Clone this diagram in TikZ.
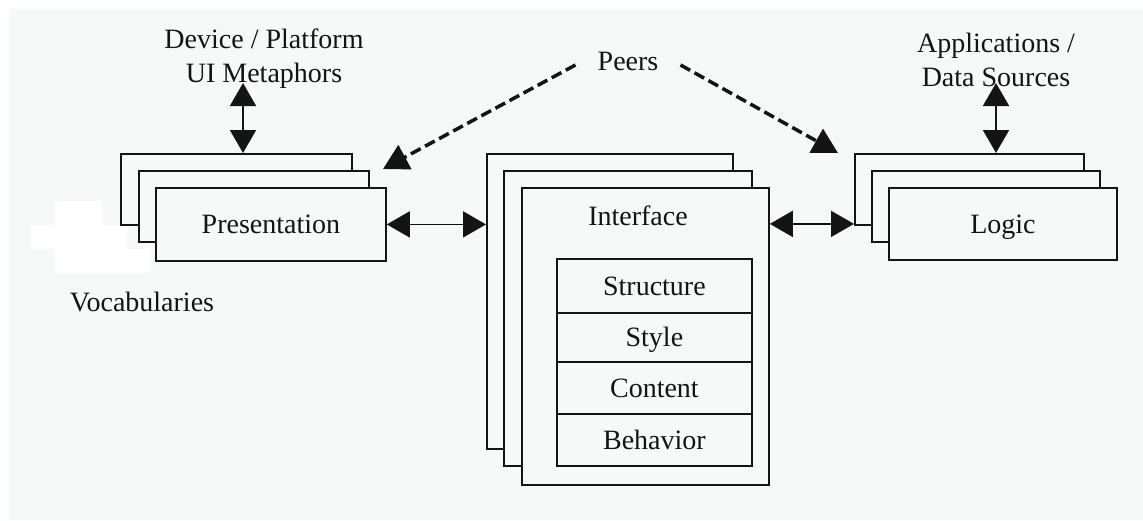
\documentclass[tikz,border=0pt]{standalone}
\usepackage{fontspec}
\setmainfont{Liberation Serif}
\usetikzlibrary{arrows.meta}
\definecolor{bgc}{RGB}{245,249,247}
\definecolor{ink}{RGB}{20,20,20}
\begin{document}
\begin{tikzpicture}[x=1pt,y=-1pt,
  every node/.style={font=\fontsize{28}{34}\selectfont, text=ink},
  card/.style={draw=ink, line width=1.8pt, fill=bgc, anchor=north west, inner sep=0pt,
    text height=19pt, text depth=0pt},
  cell/.style={card, minimum width=195pt},
  dbl/.style={draw=ink, line width=1.8pt,
    {Triangle[length=23pt,width=26pt]}-{Triangle[length=23pt,width=26pt]}},
  peer/.style={draw=ink, line width=3.5pt, dash pattern=on 11pt off 5pt,
    -{Triangle[length=25pt,width=27pt]}},
  lbl/.style={align=center, inner sep=0pt}
]
\useasboundingbox (0,0) rectangle (1143,520);
\fill[white] (0,0) rectangle (1143,520);
\fill[bgc] (9,9) rectangle (1143,520);
% white patches
\fill[white] (55,201) rectangle (103,225);
\fill[white] (31,225) rectangle (127,249);
\fill[white] (55,249) rectangle (151,273);

% Presentation stack
\node[card, minimum width=231pt, minimum height=71pt] (p1) at (120,153) {};
\node[card, minimum width=230pt, minimum height=71pt] (p2) at (138,170) {};
\node[card, minimum width=230pt, minimum height=73pt] (p3) at (155,187) {Presentation};

% Interface stack
\node[card, minimum width=246pt, minimum height=295pt] (i1) at (486,153) {};
\node[card, minimum width=248pt, minimum height=295pt] (i2) at (503,170) {};
\node[card, minimum width=247pt, minimum height=297pt] (i3) at (521,187) {};
\node[anchor=base, inner sep=0pt] (ilbl) at (638,225) {Interface};
\node[cell, minimum height=54pt] (c1) at (556,258) {Structure};
\node[cell, minimum height=49pt] (c2) at (556,312) {Style};
\node[cell, minimum height=52pt] (c3) at (556,361) {Content};
\node[cell, minimum height=52pt] (c4) at (556,413) {Behavior};

% Logic stack
\node[card, minimum width=229pt, minimum height=71pt] (l1) at (854,153) {};
\node[card, minimum width=228pt, minimum height=71pt] (l2) at (871,170) {};
\node[card, minimum width=228pt, minimum height=72pt] (l3) at (888,187) {Logic};

% labels
\node[lbl] (dev) at (264,58.6) {Device / Platform\\UI Metaphors};
\node[lbl] (app) at (996,59.7) {Applications /\\Data Sources};
\node[anchor=base, inner ysep=0pt, inner xsep=22pt] (peers) at (628,70) {Peers};
\node[anchor=base, inner sep=0pt] (voc) at (142,311) {Vocabularies};

% connectors
\coordinate (devtip) at (243,83);
\coordinate (apptip) at (996,83);
\draw[dbl] (devtip) -- (devtip |- p1.north);
\draw[dbl] (apptip) -- (apptip |- l1.north);
\draw[dbl] (p3.east) -- (i1.west |- p3.east);
\draw[dbl] (i3.east |- l3.west) -- (l1.west |- l3.west);

\coordinate (pl) at (383,169);
\coordinate (pr) at (838,153);
\draw[peer] ([yshift=-4pt]peers.west) -- (pl);
\draw[peer] ([yshift=-4pt]peers.east) -- (pr);
\end{tikzpicture}
\end{document}
